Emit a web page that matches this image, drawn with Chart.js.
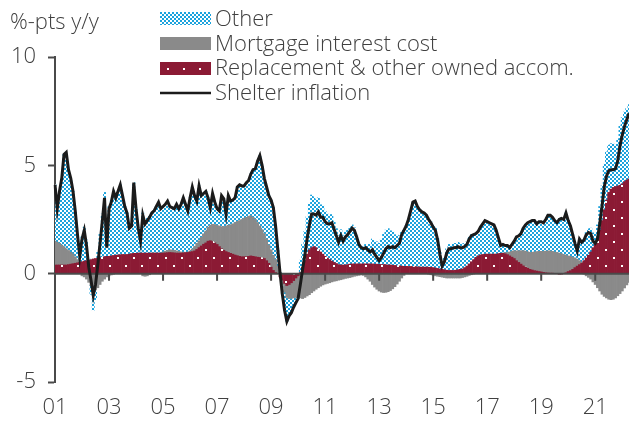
<!DOCTYPE html>
<html lang="en">
<head>
  <meta charset="UTF-8" />
  <title>Shelter inflation contributions</title>
  <script src="https://cdn.jsdelivr.net/npm/chart.js"></script>
  <style>
    body {
      margin: 0;
      background: #fff;
    }
    #wrap {
      width: 629px;
      height: 424px;
    }
  </style>
</head>
<body>
  <div id="wrap"><canvas id="chart" width="629" height="424"></canvas></div>

  <script>
    // monthly data, Jan 2001 - Apr 2022, %-pts y/y
    const startYear = 2001;
    const tickLabels = ["01", "03", "05", "07", "09", "11", "13", "15", "17", "19", "21"];

    const shelter = [
      4.1, 3.0, 3.8, 4.4, 5.5, 5.6, 4.8, 4.4, 3.8, 2.9, 1.8, 0.8,
      1.6, 2.0, 1.3, 0.3, -0.3, -1.0, -0.5, 0.4, 1.4, 2.4, 3.5, 1.2,
      3.0, 3.3, 3.8, 3.5, 3.8, 4.1, 3.6, 3.1, 2.8, 2.1, 2.2, 4.2,
      3.0, 2.1, 1.5, 2.7, 2.3, 2.45, 2.6, 2.8, 2.9, 3.1, 3.3, 3.0,
      3.1, 3.2, 3.35, 3.1, 3.05, 3.0, 3.2, 3.0, 3.2, 3.5, 3.2, 2.9,
      3.5, 4.0, 3.6, 3.35, 4.05, 3.6, 3.7, 3.8, 3.5, 3.05, 3.7, 3.3,
      3.0, 2.9, 3.6, 3.45, 2.75, 3.6, 3.35, 3.4, 3.5, 4.0, 4.1, 4.05,
      4.05, 4.2, 4.3, 4.6, 4.8, 4.85, 5.2, 5.45, 5.0, 4.4, 4.0, 3.6,
      3.4, 3.05, 2.2, 1.1, 0.0, -0.95, -1.7, -2.2, -1.95, -1.8, -1.55, -1.35,
      -1.15, -0.5, 0.2, 0.85, 1.6, 2.25, 2.75, 2.75, 2.7, 2.85, 2.6, 2.6,
      2.4, 2.3, 2.3, 2.35, 2.05, 1.75, 1.45, 1.75, 1.5, 1.7, 1.8, 1.95,
      2.1, 2.0, 1.7, 1.35, 1.2, 1.15, 1.2, 1.1, 1.0, 1.1, 0.9, 0.75,
      0.6, 0.75, 0.95, 1.15, 1.25, 1.2, 1.25, 1.2, 1.3, 1.4, 1.8, 2.0,
      2.2, 2.5, 2.9, 3.3, 3.35, 3.1, 2.95, 2.85, 2.8, 2.7, 2.5, 2.35,
      2.15, 2.0, 1.55, 0.9, 0.35, 0.55, 0.95, 1.15, 1.15, 1.2, 1.2, 1.25,
      1.2, 1.2, 1.25, 1.35, 1.6, 1.75, 1.8, 1.85, 1.95, 2.15, 2.3, 2.45,
      2.4, 2.35, 2.3, 2.25, 2.0, 1.65, 1.3, 1.35, 1.3, 1.3, 1.2, 1.35,
      1.5, 1.7, 1.75, 1.85, 2.1, 2.25, 2.35, 2.4, 2.45, 2.45, 2.3, 2.4,
      2.4, 2.35, 2.5, 2.7, 2.7, 2.6, 2.45, 2.35, 2.5, 2.55, 2.5, 2.8,
      2.45, 2.2, 1.8, 1.4, 1.05, 1.6, 1.45, 1.55, 1.8, 1.9, 1.85, 1.5,
      1.4, 1.6, 2.3, 3.1, 4.0, 4.5, 4.75, 4.8, 4.8, 4.85, 5.2, 5.9,
      6.4, 6.8, 7.1, 7.4
    ];

    const replacement = [
      0.4, 0.4, 0.4, 0.4, 0.4, 0.4, 0.42, 0.44, 0.46, 0.48, 0.5, 0.52,
      0.55, 0.58, 0.6, 0.62, 0.65, 0.68, 0.7, 0.72, 0.74, 0.76, 0.78, 0.8,
      0.8, 0.82, 0.84, 0.85, 0.86, 0.87, 0.88, 0.88, 0.88, 0.9, 0.92, 0.94,
      0.94, 0.95, 0.95, 0.95, 0.95, 0.95, 0.95, 0.95, 0.95, 0.95, 0.95, 0.95,
      0.95, 0.96, 0.97, 0.98, 0.97, 0.96, 0.95, 0.95, 0.95, 0.96, 0.97, 0.98,
      1.0, 1.02, 1.05, 1.12, 1.2, 1.28, 1.36, 1.42, 1.5, 1.52, 1.48, 1.42,
      1.35, 1.25, 1.15, 1.08, 1.02, 0.98, 0.94, 0.9, 0.86, 0.83, 0.8, 0.78,
      0.78, 0.78, 0.8, 0.82, 0.8, 0.78, 0.76, 0.75, 0.73, 0.7, 0.6, 0.48,
      0.3, 0.15, 0.05, 0, -0.15, -0.3, -0.45, -0.55, -0.5, -0.42, -0.32, -0.2,
      -0.1, 0.05, 0.3, 0.6, 0.9, 1.1, 1.2, 1.25, 1.2, 1.1, 1.0, 0.9,
      0.8, 0.72, 0.65, 0.58, 0.52, 0.47, 0.42, 0.4, 0.4, 0.4, 0.42, 0.44,
      0.45, 0.45, 0.45, 0.45, 0.45, 0.45, 0.45, 0.45, 0.45, 0.45, 0.44, 0.44,
      0.43, 0.42, 0.42, 0.41, 0.4, 0.4, 0.39, 0.38, 0.37, 0.36, 0.35, 0.34,
      0.34, 0.33, 0.33, 0.32, 0.32, 0.31, 0.3, 0.3, 0.3, 0.3, 0.3, 0.3,
      0.28, 0.26, 0.24, 0.22, 0.2, 0.18, 0.16, 0.15, 0.15, 0.15, 0.16, 0.18,
      0.2, 0.22, 0.28, 0.35, 0.45, 0.55, 0.65, 0.75, 0.82, 0.86, 0.88, 0.9,
      0.9, 0.9, 0.9, 0.9, 0.9, 0.92, 0.94, 0.94, 0.92, 0.88, 0.82, 0.76,
      0.7, 0.6, 0.52, 0.44, 0.36, 0.3, 0.25, 0.2, 0.17, 0.14, 0.12, 0.1,
      0.08, 0.06, 0.04, 0.03, 0.02, 0.01, 0.0, 0.0, -0.03, -0.02, 0.0, 0.04,
      0.1, 0.14, 0.2, 0.28, 0.35, 0.42, 0.48, 0.6, 0.72, 0.85, 1.0, 1.2,
      1.35, 1.65, 2.0, 2.45, 2.95, 3.4, 3.75, 3.9, 3.98, 4.02, 4.05, 4.08,
      4.15, 4.25, 4.32, 4.38
    ];

    const mortgage = [
      1.1, 1.05, 1.0, 0.92, 0.85, 0.75, 0.65, 0.55, 0.45, 0.3, 0.15, 0.05,
      -0.1, -0.15, -0.25, -0.4, -0.55, -0.7, -0.75, -0.65, -0.5, -0.35, -0.25, -0.15,
      -0.1, -0.06, -0.03, 0, 0, 0, 0, 0, 0, 0, 0, 0,
      0, 0, 0, -0.1, -0.12, -0.1, -0.05, 0, 0, 0, 0, 0,
      0.05, 0.08, 0.1, 0.12, 0.12, 0.12, 0.1, 0.08, 0.05, 0.03, 0.02, 0.02,
      0.05, 0.12, 0.2, 0.28, 0.32, 0.4, 0.48, 0.55, 0.65, 0.72, 0.8, 0.85,
      0.88, 0.95, 1.02, 1.1, 1.18, 1.25, 1.32, 1.4, 1.5, 1.58, 1.65, 1.72,
      1.78, 1.82, 1.85, 1.85, 1.8, 1.72, 1.6, 1.45, 1.3, 1.15, 1.0, 0.85,
      0.8, 0.7, 0.6, 0.35, 0.05, -0.2, -0.4, -0.55, -0.65, -0.72, -0.8, -0.9,
      -1.05, -1.12, -1.15, -1.1, -1.03, -0.97, -0.88, -0.8, -0.72, -0.65, -0.58, -0.52,
      -0.48, -0.45, -0.42, -0.38, -0.35, -0.33, -0.3, -0.28, -0.25, -0.22, -0.2, -0.18,
      -0.15, -0.12, -0.1, -0.08, -0.06, -0.08, -0.15, -0.25, -0.35, -0.5, -0.62, -0.72,
      -0.8, -0.85, -0.87, -0.86, -0.83, -0.78, -0.7, -0.6, -0.48, -0.35, -0.2, -0.08,
      0, 0, 0, 0, 0, 0, 0, 0, 0, 0, -0.02, -0.05,
      -0.08, -0.1, -0.12, -0.14, -0.16, -0.18, -0.2, -0.2, -0.2, -0.2, -0.2, -0.2,
      -0.2, -0.18, -0.15, -0.12, -0.08, -0.05, -0.02, 0, 0, 0, 0, 0,
      0, 0, 0, 0, 0, 0, 0, 0.02, 0.05, 0.1, 0.18, 0.28,
      0.36, 0.45, 0.54, 0.62, 0.7, 0.74, 0.76, 0.78, 0.82, 0.86, 0.9, 0.93,
      0.95, 0.97, 1.0, 1.02, 1.03, 1.02, 1.0, 0.98, 0.95, 0.92, 0.88, 0.82,
      0.72, 0.66, 0.56, 0.45, 0.32, 0.18, 0.06, -0.02, -0.1, -0.17, -0.25, -0.38,
      -0.5, -0.65, -0.8, -0.95, -1.05, -1.12, -1.18, -1.2, -1.18, -1.12, -1.02, -0.92,
      -0.8, -0.66, -0.52, -0.4
    ];

    const other = [
      2.6, 1.55, 2.4, 3.08, 4.25, 4.45, 3.73, 3.41, 2.89, 2.12, 1.15, 0.23,
      1.15, 1.57, 0.95, 0.08, -0.4, -0.98, -0.45, 0.33, 1.16, 1.99, 2.97, 0.55,
      2.3, 2.54, 2.99, 2.65, 2.94, 3.23, 2.72, 2.22, 1.92, 1.2, 1.28, 3.26,
      2.06, 1.15, 0.55, 1.85, 1.47, 1.6, 1.7, 1.85, 1.95, 2.15, 2.35, 2.05,
      2.1, 2.16, 2.28, 2.0, 1.96, 1.92, 2.15, 1.97, 2.2, 2.51, 2.21, 1.9,
      2.45, 2.86, 2.35, 1.95, 2.53, 1.92, 1.86, 1.83, 1.35, 0.81, 1.42, 1.03,
      0.77, 0.7, 1.43, 1.27, 0.55, 1.37, 1.09, 1.1, 1.14, 1.59, 1.65, 1.55,
      1.49, 1.6, 1.65, 1.93, 2.2, 2.35, 2.84, 3.25, 2.97, 2.55, 2.4, 2.27,
      2.3, 2.2, 1.55, 0.75, 0.1, -0.45, -0.85, -1.1, -0.8, -0.66, -0.43, -0.25,
      0.0, 0.57, 1.05, 1.35, 1.73, 2.12, 2.43, 2.3, 2.22, 2.4, 2.18, 2.22,
      2.08, 2.03, 2.07, 2.15, 1.88, 1.61, 1.33, 1.63, 1.35, 1.52, 1.58, 1.69,
      1.8, 1.67, 1.35, 0.98, 0.81, 0.78, 0.9, 0.9, 0.9, 1.15, 1.08, 1.03,
      0.97, 1.18, 1.4, 1.6, 1.68, 1.58, 1.56, 1.42, 1.41, 1.39, 1.65, 1.74,
      1.86, 2.17, 2.57, 2.98, 3.03, 2.79, 2.65, 2.55, 2.5, 2.4, 2.22, 2.1,
      1.95, 1.84, 1.43, 0.82, 0.31, 0.55, 0.99, 1.2, 1.2, 1.25, 1.24, 1.27,
      1.2, 1.16, 1.12, 1.12, 1.23, 1.25, 1.17, 1.1, 1.13, 1.29, 1.42, 1.55,
      1.5, 1.45, 1.4, 1.35, 1.1, 0.73, 0.36, 0.39, 0.33, 0.32, 0.2, 0.31,
      0.44, 0.65, 0.69, 0.79, 1.04, 1.21, 1.34, 1.42, 1.46, 1.45, 1.28, 1.37,
      1.37, 1.32, 1.46, 1.65, 1.65, 1.57, 1.45, 1.37, 1.58, 1.65, 1.62, 1.94,
      1.63, 1.4, 1.04, 0.67, 0.38, 1.0, 0.91, 0.97, 1.18, 1.22, 1.1, 0.68,
      0.55, 0.6, 1.1, 1.6, 2.1, 2.22, 2.18, 2.1, 2.0, 1.95, 2.17, 2.74,
      3.05, 3.21, 3.3, 3.42
    ];

    const seriesNames = ["Other", "Mortgage interest cost", "Replacement & other owned accom.", "Shelter inflation"];

    // month labels
    const labels = shelter.map((v, i) => {
      const yr = startYear + Math.floor(i / 12);
      return yr + "-" + String(i % 12 + 1).padStart(2, "0");
    });

    const textColor = "#404040";
    const axisColor = "#4a4a4a";
    const fontFamily = "'Open Sans', Lato, sans-serif";
    const fontWeight = 300;
    const fontSize = 22;

    // fill patterns
    function makePattern(size, draw) {
      const c = document.createElement("canvas");
      c.width = size;
      c.height = size;
      const g = c.getContext("2d");
      draw(g);
      return g.createPattern(c, "repeat");
    }

    const otherFill = makePattern(4, g => {
      g.fillStyle = "#ffffff";
      g.fillRect(0, 0, 4, 4);
      g.fillStyle = "#1ba3dd";
      g.fillRect(0, 0, 2, 2);
      g.fillRect(2, 2, 2, 2);
    });

    const replFill = makePattern(16, g => {
      g.fillStyle = "#8b1a34";
      g.fillRect(0, 0, 16, 16);
      g.fillStyle = "#ffffff";
      g.fillRect(5, 1, 2, 2);
      g.fillRect(13, 9, 2, 2);
    });

    const mortColor = "#8a8a8a";
    const lineColor = "#1b1b1b";

    // zero line + x tick marks, under the shelter line
    const zeroAxis = {
      id: "zeroAxis",
      beforeDatasetDraw(chart, args) {
        if (args.index !== 0) return;
        const { ctx, chartArea, scales } = chart;
        const y0 = scales.y.getPixelForValue(0);
        ctx.save();
        ctx.strokeStyle = axisColor;
        ctx.lineWidth = 2;
        ctx.beginPath();
        ctx.moveTo(chartArea.left, y0);
        ctx.lineTo(chartArea.right, y0);
        ctx.stroke();
        ctx.beginPath();
        labels.forEach((l, i) => {
          if (i % 24 !== 0 || i === 0) return;
          const px = scales.x.getPixelForValue(i);
          ctx.moveTo(px, y0);
          ctx.lineTo(px, y0 + 7);
        });
        ctx.stroke();
        ctx.restore();
      }
    };

    // unit title and legend over the plot
    const legendBox = {
      id: "legendBox",
      afterDraw(chart) {
        const ctx = chart.ctx;
        ctx.save();
        ctx.font = fontWeight + " " + fontSize + "px " + fontFamily;
        ctx.fillStyle = textColor;
        ctx.textBaseline = "alphabetic";
        ctx.fillText("%-pts y/y", 10, 29);

        const bx = 160, bw = 51, bh = 13;
        const rows = [12, 37, 62, 87];
        // Other
        ctx.fillStyle = otherFill;
        ctx.fillRect(bx, rows[0], bw, bh);
        // Mortgage
        ctx.fillStyle = mortColor;
        ctx.fillRect(bx, rows[1], bw, bh);
        // Replacement
        ctx.save();
        ctx.translate(154, 59);
        ctx.fillStyle = replFill;
        ctx.fillRect(bx - 154, rows[2] - 59, bw, bh);
        ctx.restore();
        // Shelter line
        ctx.strokeStyle = lineColor;
        ctx.lineWidth = 2.5;
        ctx.beginPath();
        ctx.moveTo(bx, 93);
        ctx.lineTo(bx + bw, 93);
        ctx.stroke();

        ctx.fillStyle = textColor;
        seriesNames.forEach((name, i) => {
          ctx.fillText(name, 215, 26 + i * 24.7);
        });
        ctx.restore();
      }
    };

    const ctx = document.getElementById("chart").getContext("2d");
    const chart = new Chart(ctx, {
      type: "bar",
      data: {
        labels: labels,
        datasets: [
          {
            type: "line",
            label: seriesNames[3],
            data: shelter,
            borderColor: lineColor,
            borderWidth: 3,
            pointRadius: 0,
            tension: 0,
            fill: false
          },
          {
            label: seriesNames[2],
            data: replacement,
            backgroundColor: replFill,
            borderWidth: 0
          },
          {
            label: seriesNames[1],
            data: mortgage,
            backgroundColor: mortColor,
            borderWidth: 0
          },
          {
            label: seriesNames[0],
            data: other,
            backgroundColor: otherFill,
            borderWidth: 0
          }
        ]
      },
      options: {
        responsive: false,
        animation: false,
        events: [],
        layout: {
          padding: { top: 57, left: 0, right: 0, bottom: 0 }
        },
        datasets: {
          bar: {
            barPercentage: 1,
            categoryPercentage: 1
          }
        },
        plugins: {
          legend: { display: false },
          tooltip: { enabled: false }
        },
        scales: {
          x: {
            stacked: true,
            offset: false,
            grid: { display: false, drawTicks: false },
            border: { display: false },
            ticks: {
              autoSkip: false,
              maxRotation: 0,
              minRotation: 0,
              padding: 13,
              color: textColor,
              font: { family: fontFamily, size: fontSize, weight: fontWeight },
              callback: (val, i) => (i % 24 === 0 ? tickLabels[i / 24] : null)
            },
            afterFit: s => { s.height = 42; }
          },
          y: {
            stacked: true,
            min: -5,
            max: 10,
            grid: {
              drawOnChartArea: false,
              drawTicks: true,
              tickLength: 7,
              tickWidth: 2,
              color: axisColor
            },
            border: { display: true, color: axisColor, width: 2 },
            ticks: {
              stepSize: 5,
              padding: 12,
              color: textColor,
              font: { family: fontFamily, size: fontSize, weight: fontWeight }
            },
            afterFit: s => { s.width = 55; }
          }
        }
      },
      plugins: [zeroAxis, legendBox]
    });
  </script>
</body>
</html>
